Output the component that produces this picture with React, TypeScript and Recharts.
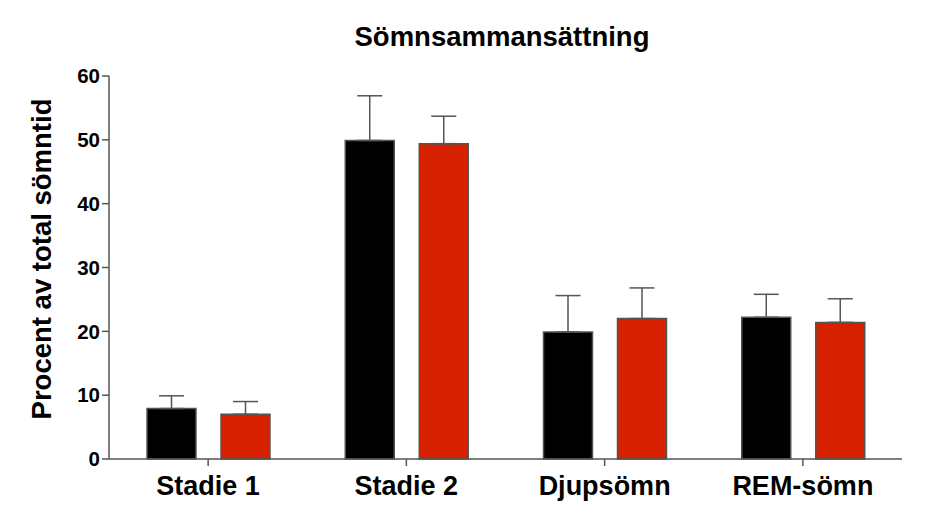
import { Bar, BarChart, ErrorBar, XAxis, YAxis } from "recharts";

const categories = ["Stadie 1", "Stadie 2", "Djupsömn", "REM-sömn"];
const blackValues = [7.9, 49.9, 19.9, 22.2];
const blackErrors = [2.0, 7.0, 5.7, 3.6];
const redValues = [7.0, 49.4, 22.0, 21.4];
const redErrors = [2.0, 4.3, 4.8, 3.7];
const yTicks = [0, 10, 20, 30, 40, 50, 60];

const data = categories.map((name, i) => ({
  name,
  black: blackValues[i],
  blackErr: [0, blackErrors[i]],
  red: redValues[i],
  redErr: [0, redErrors[i]],
}));

const font = "'Liberation Sans', Arial, sans-serif";
const axisColor = "#555555";

function YLabel() {
  return (
    <text
      x={51}
      y={259}
      transform="rotate(-90 51 259)"
      textAnchor="middle"
      fontFamily={font}
      fontWeight="bold"
      fontSize={27.5}
      fill="#000"
    >
      Procent av total sömntid
    </text>
  );
}

export default function App() {
  return (
    <div style={{ position: "absolute", left: 0, top: 0, width: 945, height: 520, background: "#fff" }}>
      <div
        style={{
          position: "absolute",
          left: 302,
          top: 23,
          width: 400,
          textAlign: "center",
          fontFamily: font,
          fontWeight: "bold",
          fontSize: 27.5,
          lineHeight: "27px",
          color: "#000",
        }}
      >
        Sömnsammansättning
      </div>
      <BarChart
        width={945}
        height={520}
        data={data}
        margin={{ top: 76, right: 43, left: 0, bottom: 0 }}
        barSize={49}
        barGap={25}
      >
        <XAxis
          dataKey="name"
          height={61}
          stroke={axisColor}
          strokeWidth={1.5}
          tickSize={7}
          tickMargin={10}
          tick={{ fontFamily: font, fontWeight: "bold", fontSize: 27, fill: "#000" }}
          interval={0}
        />
        <YAxis
          width={109}
          domain={[0, 60]}
          ticks={yTicks}
          stroke={axisColor}
          strokeWidth={1.5}
          tickSize={7}
          tickMargin={2}
          tick={{ fontFamily: font, fontWeight: "bold", fontSize: 20.5, fill: "#000" }}
          label={<YLabel />}
        />
        <Bar dataKey="black" fill="#000000" stroke={axisColor} strokeWidth={1.5} isAnimationActive={false}>
          <ErrorBar dataKey="blackErr" direction="y" width={12.5} stroke={axisColor} strokeWidth={1.5} isAnimationActive={false} />
        </Bar>
        <Bar dataKey="red" fill="#d62000" stroke={axisColor} strokeWidth={1.5} isAnimationActive={false}>
          <ErrorBar dataKey="redErr" direction="y" width={12.5} stroke={axisColor} strokeWidth={1.5} isAnimationActive={false} />
        </Bar>
      </BarChart>
    </div>
  );
}
